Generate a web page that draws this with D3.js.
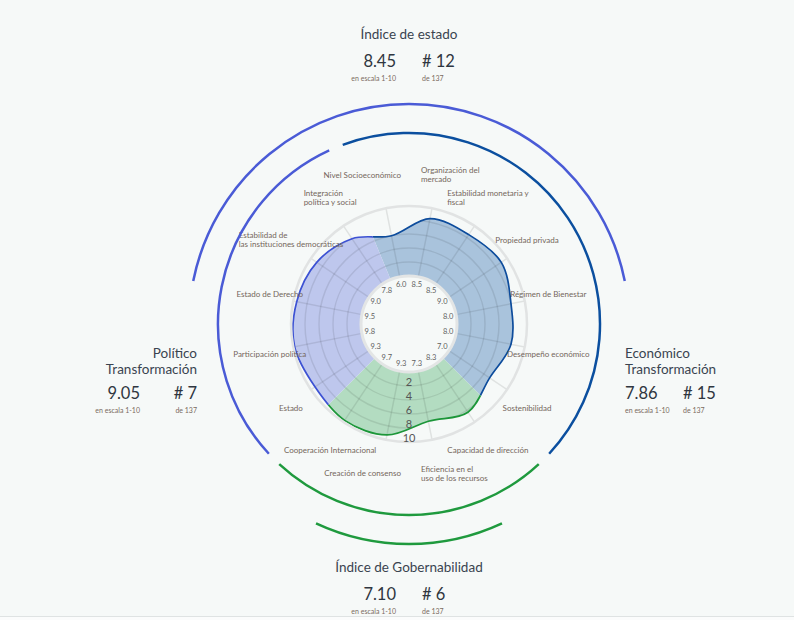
<!DOCTYPE html>
<html lang="es">
<head>
<meta charset="utf-8">
<title>Índice de Transformación</title>
<script src="https://cdnjs.cloudflare.com/ajax/libs/d3/7.8.5/d3.min.js"></script>
<style>
  body { margin: 0; background: #f6f9f8; }
  svg { display: block; font-family: Lato, "Open Sans", sans-serif; }
</style>
</head>
<body>
<div id="chart"></div>
<script>
// criterios, en sentido horario empezando arriba a la izquierda
let categories = [
  'Nivel Socioeconómico',
  'Organización del\nmercado',
  'Estabilidad monetaria y\nfiscal',
  'Propiedad privada',
  'Régimen de Bienestar',
  'Desempeño económico',
  'Sostenibilidad',
  'Capacidad de dirección',
  'Eficiencia en el\nuso de los recursos',
  'Creación de consenso',
  'Cooperación Internacional',
  'Estado',
  'Participación política',
  'Estado de Derecho',
  'Estabilidad de\nlas instituciones democráticas',
  'Integración\npolítica y social'
];
let scores = [6.0, 8.5, 8.5, 9.0, 8.0, 8.0, 7.0, 8.3, 7.3, 9.3, 9.7, 9.3, 9.8, 9.5, 9.0, 7.8];
let groups = ['eco', 'eco', 'eco', 'eco', 'eco', 'eco', 'eco',
  'gov', 'gov', 'gov', 'gov',
  'pol', 'pol', 'pol', 'pol', 'pol'];
let ring_ticks = [2, 4, 6, 8, 10];

// indices resumen: estado, político, económico, gobernabilidad
let index_titles = ['Índice de estado', 'Político\nTransformación', 'Económico\nTransformación', 'Índice de Gobernabilidad'];
let index_scores = [8.45, 9.05, 7.86, 7.10];
let index_ranks = [12, 7, 15, 6];
let rank_total = 137;

let chart_width = 794;
let chart_height = 620;
let cx = 409;
let cy = 324;

let colors = {
  eco: { fill: '#a9c3dc', line: '#0d4c9c', arc: '#0b4f9f' },
  gov: { fill: '#b3dcc1', line: '#1c9639', arc: '#1f9a3e' },
  pol: { fill: '#bec7ed', line: '#3d52d3', arc: '#4a5bd6' }
};

let svg = d3
  .select('#chart')
  .append('svg')
  .attr('width', chart_width)
  .attr('height', chart_height);

// bottom edge of the card
svg.append('rect').attr('x', 0).attr('y', 617).attr('width', chart_width).attr('height', 3).attr('fill', '#fbfcfc');
svg.append('line').attr('x1', 0).attr('x2', chart_width).attr('y1', 616.5).attr('y2', 616.5)
  .attr('stroke', '#dfe3e3').attr('stroke-width', 1);

let angle = d3
  .scaleLinear()
  .domain([0, categories.length])
  .range([-Math.PI / 8, 2 * Math.PI - Math.PI / 8]);

let r_scale = d3.scaleLinear().domain([0, 10]).range([48, 118]);

let g = svg.append('g').attr('transform', 'translate(' + cx + ',' + cy + ')');
let defs = svg.append('defs');

// outer ring of the grid
g.append('circle').attr('r', r_scale(10)).attr('fill', 'none')
  .attr('stroke', '#e1e3e3').attr('stroke-width', 2.5);

let radial_line = d3
  .lineRadial()
  .angle((d, i) => angle(i + 0.5))
  .radius(d => r_scale(d))
  .curve(d3.curveCardinalClosed);

let shape = radial_line(scores);

// group extents in angle
let group_keys = ['eco', 'gov', 'pol'];
let extents = group_keys.map(k => {
  let idx = groups.map((gr, i) => (gr === k ? i : -1)).filter(i => i >= 0);
  return { key: k, start: angle(d3.min(idx)), end: angle(d3.max(idx) + 1) };
});

let wedge = d3.arc().innerRadius(0).outerRadius(170);

extents.forEach(e => {
  defs.append('clipPath').attr('id', 'clip-' + e.key)
    .append('path')
    .attr('transform', 'translate(' + cx + ',' + cy + ')')
    .attr('d', wedge({ startAngle: e.start, endAngle: e.end }));
});
defs.append('clipPath').attr('id', 'clip-shape')
  .append('path')
  .attr('transform', 'translate(' + cx + ',' + cy + ')')
  .attr('d', shape);

// fills
let fills = svg.append('g');
extents.forEach(e => {
  fills.append('g').attr('clip-path', 'url(#clip-' + e.key + ')')
    .append('path')
    .attr('transform', 'translate(' + cx + ',' + cy + ')')
    .attr('d', shape)
    .attr('fill', colors[e.key].fill);
});

// rings only inside the shape
let rings = svg.append('g').attr('clip-path', 'url(#clip-shape)')
  .append('g').attr('transform', 'translate(' + cx + ',' + cy + ')');
rings.selectAll('circle')
  .data(ring_ticks.slice(0, -1))
  .enter()
  .append('circle')
  .attr('r', d => r_scale(d))
  .attr('fill', 'none')
  .attr('stroke', 'rgba(0,0,0,0.09)')
  .attr('stroke-width', 1.5);

// spokes
let grid = svg.append('g').attr('transform', 'translate(' + cx + ',' + cy + ')');
grid.selectAll('line')
  .data(categories)
  .enter()
  .append('line')
  .attr('x1', (d, i) => r_scale(0) * Math.sin(angle(i + 0.5)))
  .attr('y1', (d, i) => -r_scale(0) * Math.cos(angle(i + 0.5)))
  .attr('x2', (d, i) => r_scale(10) * Math.sin(angle(i + 0.5)))
  .attr('y2', (d, i) => -r_scale(10) * Math.cos(angle(i + 0.5)))
  .attr('stroke', 'rgba(0,0,0,0.09)')
  .attr('stroke-width', 1.5);

// outlines
extents.forEach(e => {
  svg.append('g').attr('clip-path', 'url(#clip-' + e.key + ')')
    .append('path')
    .attr('transform', 'translate(' + cx + ',' + cy + ')')
    .attr('d', shape)
    .attr('fill', 'none')
    .attr('stroke', colors[e.key].line)
    .attr('stroke-width', 1.7);
});

// hole
g.append('circle').attr('r', r_scale(0)).attr('fill', '#f6f9f8')
  .attr('stroke', '#e3e5e5').attr('stroke-width', 3);
// put hole above everything drawn so far
g.raise();

// values inside the hole
g.selectAll('.val')
  .data(scores)
  .enter()
  .append('text')
  .attr('class', 'val')
  .attr('x', (d, i) => 40 * Math.sin(angle(i + 0.5)))
  .attr('y', (d, i) => -40 * Math.cos(angle(i + 0.5)))
  .attr('dy', '0.35em')
  .attr('text-anchor', 'middle')
  .attr('font-size', 7.5)
  .attr('fill', '#5f5f5f')
  .text(d => d.toFixed(1));

// ring tick labels
let tick_g = svg.append('g').attr('transform', 'translate(' + cx + ',' + cy + ')');
tick_g.selectAll('text')
  .data(ring_ticks)
  .enter()
  .append('text')
  .attr('x', 0)
  .attr('y', d => r_scale(d) - 0.5)
  .attr('text-anchor', 'middle')
  .attr('font-size', 11)
  .attr('fill', '#555')
  .text(d => d);

// category labels, kept off the vertical axis so they don't collide
let lab_g = svg.append('g').attr('transform', 'translate(' + cx + ',' + cy + ')');
categories.forEach((c, i) => {
  let a = angle(i + 0.5);
  let x = 142 * Math.sin(a);
  let y = -152 * Math.cos(a);
  let lines = c.split('\n');
  let t = lab_g.append('text')
    .attr('font-size', 8)
    .attr('fill', '#74665b');
  let spans = lines.map((l, j) => t.append('tspan')
    .attr('x', 0)
    .attr('y', y + 3 - (lines.length - 1) * 4.5 + j * 9)
    .text(l));
  let w = d3.max(spans, s => s.node().getComputedTextLength());
  let left = x - w / 2;
  if (Math.sin(a) > 0) left = Math.max(left, 12);
  else left = Math.min(left + w, -8) - w;
  spans.forEach(s => s.attr('x', left));
});

// decorative arcs
function arc_path(radius, a0, a1) {
  let p = d3.path();
  p.arc(cx, cy, radius, a0 - Math.PI / 2, a1 - Math.PI / 2);
  return p.toString();
}
let pad = (2.2 * Math.PI) / 180;
extents.forEach(e => {
  svg.append('path')
    .attr('d', arc_path(191, e.start + pad, e.end - pad))
    .attr('fill', 'none')
    .attr('stroke', colors[e.key].arc)
    .attr('stroke-width', 2.5);
});
let deg = Math.PI / 180;
svg.append('path')
  .attr('d', arc_path(220, -78.75 * deg, 78.75 * deg))
  .attr('fill', 'none').attr('stroke', colors.pol.arc).attr('stroke-width', 2.5);
svg.append('path')
  .attr('d', arc_path(220, 155 * deg, 205 * deg))
  .attr('fill', 'none').attr('stroke', colors.gov.arc).attr('stroke-width', 2.5);

// index blocks
let blocks = [
  { title_x: cx, title_anchor: 'middle', title_y: 39, val_x: cx - 13, val_anchor: 'end', rank_x: cx + 13, rank_anchor: 'start', val_y: 67 },
  { title_x: 197, title_anchor: 'end', title_y: 358, val_x: 140, val_anchor: 'end', rank_x: 197, rank_anchor: 'end', val_y: 399 },
  { title_x: 625, title_anchor: 'start', title_y: 358, val_x: 625, val_anchor: 'start', rank_x: 683, rank_anchor: 'start', val_y: 399 },
  { title_x: cx, title_anchor: 'middle', title_y: 572, val_x: cx - 13, val_anchor: 'end', rank_x: cx + 13, rank_anchor: 'start', val_y: 600 }
];

blocks.forEach((b, i) => {
  let bg = svg.append('g');
  index_titles[i].split('\n').forEach((l, j) => {
    bg.append('text')
      .attr('x', b.title_x)
      .attr('y', b.title_y + j * 16)
      .attr('text-anchor', b.title_anchor)
      .attr('font-size', 13.5)
      .attr('fill', '#3a4450')
      .text(l);
  });
  bg.append('text')
    .attr('x', b.val_x).attr('y', b.val_y)
    .attr('text-anchor', b.val_anchor)
    .attr('font-size', 16.5)
    .attr('fill', '#2f3640')
    .text(index_scores[i].toFixed(2));
  bg.append('text')
    .attr('x', b.rank_x).attr('y', b.val_y)
    .attr('text-anchor', b.rank_anchor)
    .attr('font-size', 16.5)
    .attr('fill', '#2f3640')
    .text('# ' + index_ranks[i]);
  bg.append('text')
    .attr('x', b.val_x).attr('y', b.val_y + 13.5)
    .attr('text-anchor', b.val_anchor)
    .attr('font-size', 7)
    .attr('fill', '#7a6a60')
    .text('en escala 1-10');
  bg.append('text')
    .attr('x', b.rank_x).attr('y', b.val_y + 13.5)
    .attr('text-anchor', b.rank_anchor)
    .attr('font-size', 7)
    .attr('fill', '#7a6a60')
    .text('de ' + rank_total);
});
</script>
</body>
</html>
